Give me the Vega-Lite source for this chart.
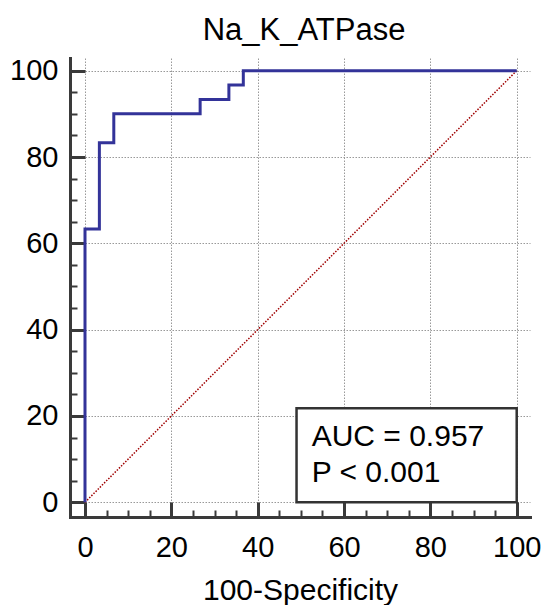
{
  "$schema": "https://vega.github.io/schema/vega-lite/v6.json",
  "autosize": "none",
  "padding": {"left": 70, "top": 58, "right": 15, "bottom": 88},
  "width": 460,
  "height": 459,
  "background": "white",
  "title": {
    "text": "Na_K_ATPase",
    "font": "Liberation Sans",
    "fontSize": 31,
    "fontWeight": "normal",
    "color": "black",
    "baseline": "alphabetic",
    "offset": -14,
    "dx": 4
  },
  "config": {"view": {"stroke": null}},
  "encoding": {
    "x": {
      "field": "x",
      "type": "quantitative",
      "scale": {"domain": [-3.475, 103.08], "nice": false, "zero": false},
      "axis": {
        "title": "100-Specificity",
        "values": [0, 5, 10, 15, 20, 25, 30, 35, 40, 45, 50, 55, 60, 65, 70, 75, 80, 85, 90, 95, 100],
        "zindex": 0,
        "domainColor": "#3a3a3a",
        "domainWidth": 3,
        "domainCap": "square",
        "tickColor": "#3a3a3a",
        "tickWidth": {"condition": {"test": "datum.value % 20 === 0", "value": 3}, "value": 2},
        "tickSize": {"condition": {"test": "datum.value % 20 === 0", "value": -15}, "value": -7},
        "labelExpr": "datum.value % 20 === 0 ? datum.label : ''",
        "labelFont": "Liberation Sans",
        "labelFontSize": 29,
        "labelColor": "black",
        "labelBaseline": "alphabetic",
        "labelPadding": 54,
        "labelOverlap": false,
        "labelFlush": false,
        "grid": true,
        "gridColor": "#999999",
        "gridOpacity": {"condition": {"test": "datum.value % 20 === 0", "value": 1}, "value": 0},
        "gridDash": [1.5, 1.5],
        "gridWidth": 1,
        "titleFont": "Liberation Sans",
        "titleFontSize": 30,
        "titleFontWeight": "normal",
        "titleColor": "black",
        "titleBaseline": "alphabetic",
        "titleY": 82
      }
    },
    "y": {
      "field": "y",
      "type": "quantitative",
      "scale": {"domain": [-3.406, 102.94], "nice": false, "zero": false},
      "axis": {
        "title": null,
        "values": [0, 5, 10, 15, 20, 25, 30, 35, 40, 45, 50, 55, 60, 65, 70, 75, 80, 85, 90, 95, 100],
        "zindex": 0,
        "domainColor": "#3a3a3a",
        "domainWidth": 3,
        "domainCap": "square",
        "tickColor": "#3a3a3a",
        "tickWidth": {"condition": {"test": "datum.value % 20 === 0", "value": 3}, "value": 2},
        "tickSize": {"condition": {"test": "datum.value % 20 === 0", "value": -15}, "value": -7},
        "labelExpr": "datum.value % 20 === 0 ? datum.label : ''",
        "labelFont": "Liberation Sans",
        "labelFontSize": 29,
        "labelColor": "black",
        "labelPadding": 27,
        "labelOverlap": false,
        "labelFlush": false,
        "grid": true,
        "gridColor": "#999999",
        "gridOpacity": {"condition": {"test": "datum.value % 20 === 0", "value": 1}, "value": 0},
        "gridDash": [1.5, 1.5],
        "gridWidth": 1
      }
    }
  },
  "layer": [
    {
      "data": {"values": [
        {"i": 0, "x": 0, "y": 0},
        {"i": 1, "x": 100, "y": 100}
      ]},
      "mark": {"type": "line", "color": "#a00000", "strokeWidth": 1.5, "strokeDash": [1.5, 1.5]},
      "encoding": {"order": {"field": "i", "type": "quantitative"}}
    },
    {
      "data": {"values": [
        {"i": 0, "x": 0, "y": 0},
        {"i": 1, "x": 0, "y": 63.33},
        {"i": 2, "x": 3.33, "y": 63.33},
        {"i": 3, "x": 3.33, "y": 83.33},
        {"i": 4, "x": 6.67, "y": 83.33},
        {"i": 5, "x": 6.67, "y": 90},
        {"i": 6, "x": 26.67, "y": 90},
        {"i": 7, "x": 26.67, "y": 93.33},
        {"i": 8, "x": 33.33, "y": 93.33},
        {"i": 9, "x": 33.33, "y": 96.67},
        {"i": 10, "x": 36.67, "y": 96.67},
        {"i": 11, "x": 36.67, "y": 100},
        {"i": 12, "x": 100, "y": 100}
      ]},
      "mark": {"type": "line", "color": "#333399", "strokeWidth": 3, "strokeJoin": "miter"},
      "encoding": {"order": {"field": "i", "type": "quantitative"}}
    },
    {
      "data": {"values": [
        {"x": 49, "xe": 100, "y": 0, "ye": 21.8}
      ]},
      "mark": {"type": "rect", "fill": "white", "stroke": "#333333", "strokeWidth": 2.5},
      "encoding": {
        "x2": {"field": "xe"},
        "y2": {"field": "ye"}
      }
    },
    {
      "data": {"values": [
        {"x": 52.5, "y": 13.0, "label": "AUC = 0.957"},
        {"x": 52.5, "y": 4.63, "label": "P < 0.001"}
      ]},
      "mark": {"type": "text", "align": "left", "baseline": "alphabetic", "font": "Liberation Sans", "fontSize": 30, "color": "black"},
      "encoding": {"text": {"field": "label", "type": "nominal"}}
    }
  ]
}
